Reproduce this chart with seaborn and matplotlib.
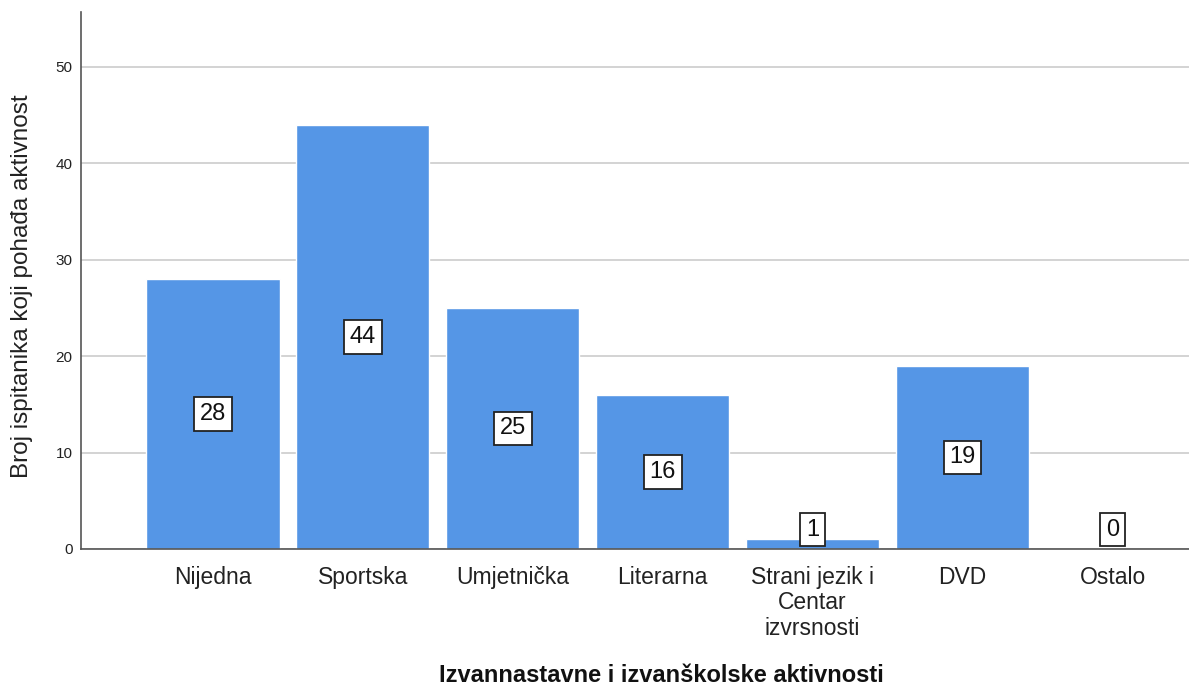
import pandas as pd
import matplotlib.pyplot as plt
import seaborn as sns

categories = ["Nijedna", "Sportska", "Umjetnička", "Literarna",
              "Strani jezik i\nCentar\nizvrsnosti", "DVD", "Ostalo"]
counts = [28, 44, 25, 16, 1, 19, 0]

df = pd.DataFrame({"aktivnost": categories, "broj": counts})

sns.set_style("white")
plt.rcParams['font.family'] = ['Liberation Sans', 'DejaVu Sans']

fig = plt.figure(figsize=(11.89, 6.89), dpi=100)
ax = fig.add_axes([0.068, 0.2032, 0.932, 0.7794])

sns.barplot(
    data=df,
    x="aktivnost",
    y="broj",
    order=categories,
    color="#5596e6",
    saturation=1,
    width=0.89,
    ax=ax
)

ax.set_ylim(0, 55.7)
ax.set_xlim(-0.88, 6.51)
ax.set_yticks([0, 10, 20, 30, 40, 50])
ax.yaxis.grid(True, color="#d0d0d0", linewidth=1.3)
ax.set_axisbelow(True)

for s in ["top", "right"]:
    ax.spines[s].set_visible(False)
for s in ["left", "bottom"]:
    ax.spines[s].set_color("#555555")
    ax.spines[s].set_linewidth(1.2)

ax.tick_params(axis="x", labelsize=16.5, length=0, pad=12, colors="#222222")
ax.tick_params(axis="y", labelsize=11, length=0, pad=6, colors="#222222")
for lbl in ax.get_xticklabels():
    lbl.set_linespacing(1.15)

ax.set_ylabel("Broj ispitanika koji pohađa aktivnost", fontsize=17.5, color="#222222",
              va="center")
ax.yaxis.set_label_coords(-0.0535, 0.49)
ax.set_xlabel("Izvannastavne i izvanškolske aktivnosti", fontsize=17,
              fontweight="bold", color="#111111", va="center")
ax.xaxis.set_label_coords(0.524, -0.2365)

# value labels in boxes
for i, v in enumerate(counts):
    ax.text(i, max(v / 2, 2.0), str(v), ha="center", va="center", fontsize=17,
            color="#111111",
            bbox=dict(boxstyle="square,pad=0.24", facecolor="white",
                      edgecolor="#222222", linewidth=1.3))

plt.savefig("out.png", dpi=100)
